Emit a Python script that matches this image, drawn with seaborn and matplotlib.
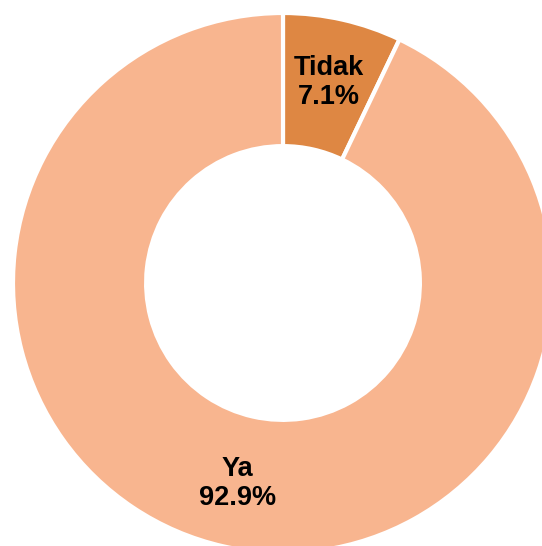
import numpy as np
import seaborn as sns
import matplotlib.pyplot as plt

# answer categories and shares (%)
categories = ["Tidak", "Ya"]
shares = [7.1, 92.9]
colors = ["#DE8743", "#F8B58F"]

sns.set_theme(style="white")
plt.rcParams['font.family'] = ['Liberation Sans', 'DejaVu Sans']

fig = plt.figure(figsize=(5.42, 5.46), dpi=100)
# donut is centred at (283, 283) px with radius 270 px, so it runs off the canvas
cx, cy, r = 283, 283, 270
ax = fig.add_axes([(cx - r) / 542, (546 - cy - r) / 546, 2 * r / 542, 2 * r / 546])

wedges, _ = ax.pie(
    shares,
    colors=colors,
    startangle=90,
    counterclock=False,
    radius=1.0,
    wedgeprops=dict(width=0.493, edgecolor="white", linewidth=3),
)

for w, cat, val in zip(wedges, categories, shares):
    mid = np.deg2rad((w.theta1 + w.theta2) / 2)
    rr = 0.76
    ax.text(rr * np.cos(mid), rr * np.sin(mid), f"{cat}\n{val:.1f}%",
            ha="center", va="center", fontsize=19.5, fontweight="bold",
            color="black", linespacing=1.15)

ax.set_xlim(-1, 1)
ax.set_ylim(-1, 1)
ax.set_aspect("equal")
ax.axis("off")

fig.savefig("out.png", dpi=100)
